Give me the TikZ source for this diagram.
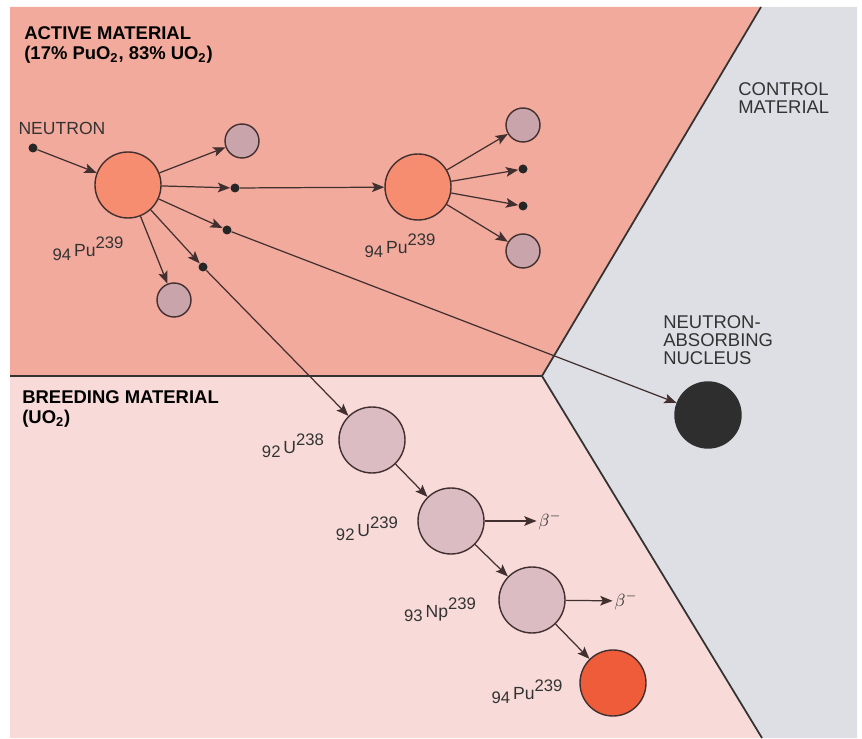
\documentclass[tikz,border=0pt]{standalone}
\usepackage{fontspec}
\setmainfont{Liberation Sans}
\usetikzlibrary{arrows.meta}
\definecolor{active}{RGB}{242,170,156}
\definecolor{breed}{RGB}{248,219,216}
\definecolor{control}{RGB}{221,223,228}
\definecolor{pu}{RGB}{246,140,112}
\definecolor{puhot}{RGB}{238,92,58}
\definecolor{frag}{RGB}{201,164,170}
\definecolor{ura}{RGB}{219,188,194}
\definecolor{ink}{RGB}{66,48,48}
\newcommand{\nuc}[3]{\raisebox{-0.45ex}{\fontsize{9.5}{9.5}\selectfont #1}\,#2\raisebox{0.8ex}{\fontsize{9.5}{9.5}\selectfont #3}}
\tikzset{
  nucleus/.style={circle,draw=ink,line width=0.8pt,minimum size=1.32cm,inner sep=0pt},
  fragment/.style={circle,draw=ink,line width=0.8pt,fill=frag,minimum size=0.68cm,inner sep=0pt},
  neutron/.style={circle,fill=black!85,minimum size=0.18cm,inner sep=0pt},
  lbl/.style={font=\fontsize{10}{10}\selectfont,text=black!80},
  head/.style={font=\fontsize{10.5}{11.5}\selectfont\bfseries,align=left,anchor=north west,inner sep=0pt},
  zone/.style={font=\fontsize{10.5}{10.2}\selectfont,text=black!80,align=left,anchor=north west,inner sep=0pt},
  arr/.style={draw=ink,line width=0.7pt,-{Stealth[length=7pt,width=5.5pt,inset=1.5pt]}},
}
\begin{document}
\begin{tikzpicture}[x=0.02cm,y=-0.02cm]
  \useasboundingbox (0,0) rectangle (862,739);
  \fill[active] (10,7) -- (761,7) -- (542,376) -- (10,376) -- cycle;
  \fill[control] (761,7) -- (857,7) -- (857,738) -- (762,738) -- (542,376) -- cycle;
  \fill[breed] (10,376) -- (542,376) -- (762,738) -- (10,738) -- cycle;
  \draw[black!80,line width=1pt] (10,376) -- (542,376) -- (761,7) (542,376) -- (762,738);

  \node[head] (act) at (24,26) {ACTIVE MATERIAL\\(17\% PuO\textsubscript{2}, 83\% UO\textsubscript{2})};
  \node[head] (brd) at (22,390) {BREEDING MATERIAL\\(UO\textsubscript{2})};
  \node[zone] (ctl) at (738,82) {CONTROL\\MATERIAL};
  \node[zone] (abl) at (663,315) {NEUTRON-\\ABSORBING\\NUCLEUS};

  \node[neutron] (n) at (33,148) {};
  \node[lbl] (nl) at (62,128) {NEUTRON};
  \node[nucleus,fill=pu] (pa) at (128,185) {};
  \node[lbl] (pal) at (88,249) {\nuc{94}{Pu}{239}};
  \node[fragment] (fa1) at (242,141) {};
  \node[neutron] (na1) at (235,188) {};
  \node[neutron] (na2) at (227,230) {};
  \node[neutron] (na3) at (203,267) {};
  \node[fragment] (fa2) at (174,300) {};

  \node[nucleus,fill=pu] (pb) at (418,187) {};
  \node[lbl] (pbl) at (400,246) {\nuc{94}{Pu}{239}};
  \node[fragment] (fb1) at (523,125) {};
  \node[neutron] (nb1) at (523,169) {};
  \node[neutron] (nb2) at (523,206) {};
  \node[fragment] (fb2) at (523,251) {};

  \node[nucleus,fill=black!82,draw=black!82] (abs) at (708,415) {};

  \node[nucleus,fill=ura] (u8) at (372,440) {};
  \node[lbl] (u8l) at (293,446) {\nuc{92}{U}{238}};
  \node[nucleus,fill=ura] (u9) at (451,521) {};
  \node[lbl] (u9l) at (367,529) {\nuc{92}{U}{239}};
  \node[nucleus,fill=ura] (np) at (532,600) {};
  \node[lbl] (npl) at (440,610) {\nuc{93}{Np}{239}};
  \node[nucleus,fill=puhot] (pc) at (613,683) {};
  \node[lbl] (pcl) at (527,692) {\nuc{94}{Pu}{239}};
  \node[lbl,text=black!85,inner sep=1pt] (b1) at (550,521) {$\beta^-$};
  \node[lbl,text=black!85,inner sep=1pt] (b2) at (626,601) {$\beta^-$};

  \begin{scope}[arr]
    \draw (n) to (pa);
    \draw (pa) to (fa1);
    \draw (pa) to (na1);
    \draw (pa) to (na2);
    \draw (pa) to (na3);
    \draw (pa) to (fa2);
    \draw (na1) to (pb);
    \draw (na2) to (abs);
    \draw (na3) to (u8);
    \draw (pb) to (fb1);
    \draw (pb) to (nb1);
    \draw (pb) to (nb2);
    \draw (pb) to (fb2);
    \draw (u8) to (u9);
    \draw (u9) to (np);
    \draw (np) to (pc);
    \draw (u9) to (b1);
    \draw (np) to (b2);
  \end{scope}
\end{tikzpicture}
\end{document}
